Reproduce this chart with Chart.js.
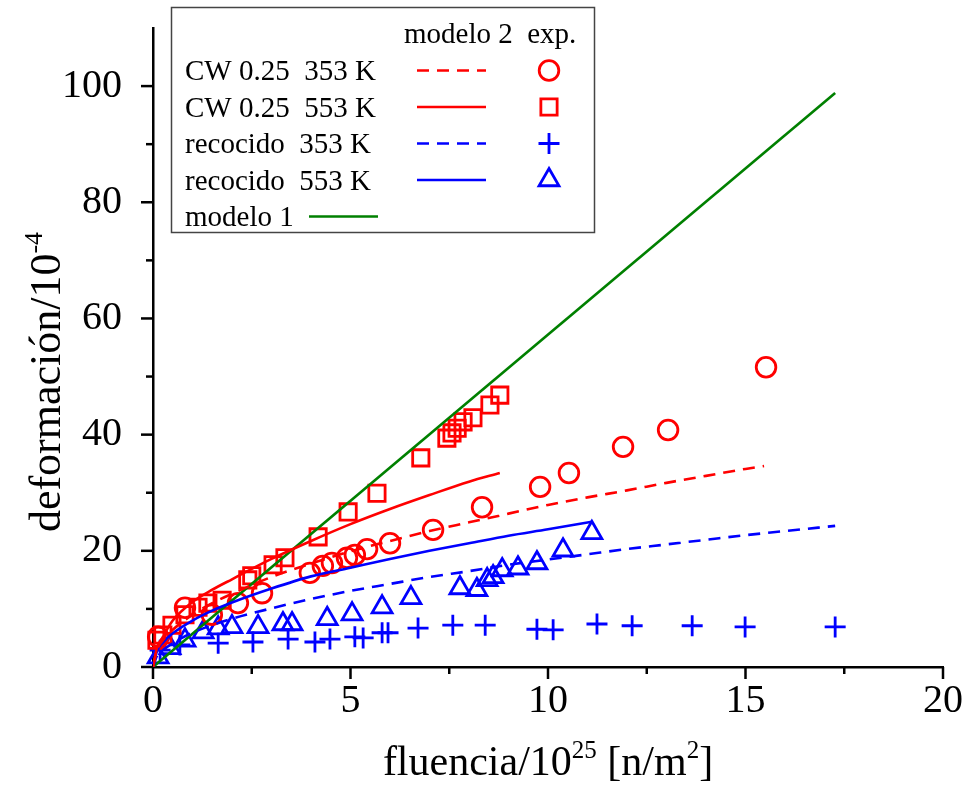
<!DOCTYPE html>
<html>
<head>
<meta charset="utf-8">
<script src="https://cdn.jsdelivr.net/npm/chart.js@4"></script>
<style>
body { margin: 0; background: #fff; }
#wrap { width: 968px; height: 787px; }
</style>
</head>
<body>
<div id="wrap"><canvas id="deformChart" width="968" height="787"></canvas></div>
<script>
// deformación (10^-4) vs fluencia (10^25 n/m^2)

// experimental points
const cw353ExpX = [0.13, 0.81, 1.49, 2.15, 2.76, 3.97, 4.30, 4.53, 4.91, 5.11, 5.42, 6.00, 7.09, 8.33, 9.80, 10.53, 11.90, 13.04, 15.52];
const cw353ExpY = [5.2, 10.2, 9.0, 11.0, 12.7, 16.2, 17.4, 17.9, 18.8, 19.3, 20.3, 21.3, 23.6, 27.5, 31.0, 33.4, 37.9, 40.8, 51.6];

const cw553ExpX = [0.10, 0.25, 0.48, 0.81, 1.14, 1.39, 1.75, 2.40, 2.50, 3.04, 3.34, 4.18, 4.94, 5.67, 6.78, 7.44, 7.57, 7.70, 7.85, 8.10, 8.53, 8.78];
const cw553ExpY = [4.6, 5.5, 7.2, 9.0, 10.3, 11.0, 11.5, 15.0, 15.7, 17.6, 18.8, 22.4, 26.7, 29.9, 36.0, 39.4, 40.3, 41.1, 42.2, 42.9, 45.1, 46.8];

const rec353ExpX = [0.18, 0.68, 1.65, 2.53, 3.42, 4.10, 4.48, 5.11, 5.32, 5.80, 5.95, 6.71, 7.59, 8.41, 9.72, 10.13, 11.24, 12.13, 13.65, 14.99, 17.27];
const rec353ExpY = [2.9, 3.8, 4.1, 4.3, 4.8, 4.3, 4.8, 5.2, 5.0, 5.9, 5.9, 6.7, 7.2, 7.2, 6.5, 6.4, 7.4, 7.1, 7.1, 6.9, 6.9];

const rec553ExpX = [0.13, 0.43, 0.81, 1.27, 1.65, 2.00, 2.66, 3.29, 3.52, 4.41, 5.04, 5.80, 6.53, 7.77, 8.20, 8.46, 8.61, 8.84, 9.24, 9.72, 10.38, 11.11];
const rec553ExpY = [1.7, 3.3, 4.6, 6.0, 6.7, 6.9, 6.9, 7.4, 7.4, 8.3, 9.1, 10.3, 11.9, 13.6, 13.3, 15.0, 15.5, 16.7, 17.0, 17.9, 20.1, 23.1];

// modelo 2 curves
const cw353ModelX = [0, 0.1, 0.25, 0.5, 1, 1.5, 2, 3, 4, 5, 6, 7, 8, 9, 10, 11, 12, 13, 14, 15, 15.47];
const cw353ModelY = [0, 2.9, 4.6, 6.4, 9.0, 11.0, 12.6, 15.5, 17.8, 19.9, 21.7, 23.4, 24.9, 26.4, 27.9, 29.2, 30.4, 31.7, 32.9, 34.1, 34.6];

const cw553ModelX = [0, 0.1, 0.25, 0.5, 1, 1.5, 2, 3, 4, 5, 6, 7, 8, 8.78];
const cw553ModelY = [0, 3.3, 5.2, 8.0, 11.2, 13.3, 15.1, 18.6, 21.7, 24.6, 27.2, 29.6, 31.9, 33.4];

const rec353ModelX = [0, 0.1, 0.25, 0.5, 1, 1.5, 2, 3, 4, 5, 6, 7, 8, 9, 10, 11, 12, 13, 14, 15, 16, 17.27];
const rec353ModelY = [0, 1.9, 2.9, 4.1, 5.9, 7.2, 8.3, 10.1, 11.7, 13.1, 14.3, 15.5, 16.5, 17.6, 18.5, 19.4, 20.3, 21.1, 21.9, 22.7, 23.4, 24.3];

const rec553ModelX = [0, 0.1, 0.25, 0.5, 1, 1.5, 2, 3, 4, 5, 6, 7, 8, 9, 10, 11.11];
const rec553ModelY = [0, 2.7, 4.2, 5.8, 8.0, 9.7, 11.1, 13.5, 15.6, 17.1, 18.6, 20.0, 21.3, 22.6, 23.7, 25.0];

// modelo 1
const model1X = [0, 17.27];
const model1Y = [0, 98.8];

// axes
const xMajorTicks = [0, 5, 10, 15, 20];
const xMinorTicks = [2.5, 7.5, 12.5, 17.5];
const yMajorTicks = [0, 20, 40, 60, 80, 100];
const yMinorTicks = [10, 30, 50, 70, 90];

const legendHeader = 'modelo 2  exp.';
const legendRows = ['CW 0.25  353 K', 'CW 0.25  553 K', 'recocido  353 K', 'recocido  553 K', 'modelo 1'];

const serif = "'Liberation Serif', 'Times New Roman', serif";
const RED = '#ff0000', BLUE = '#0000ff', GREEN = '#008000';

function pts(xs, ys) {
  return xs.map((x, i) => ({ x: x, y: ys[i] }));
}

function modelLine(xs, ys, color, dashed) {
  return {
    data: pts(xs, ys), showLine: true, borderColor: color, borderWidth: 2.6,
    borderDash: dashed ? [12, 8] : [], pointRadius: 0, cubicInterpolationMode: 'monotone'
  };
}

function expPoints(xs, ys, color, style, r) {
  return {
    data: pts(xs, ys), showLine: false, borderColor: color, backgroundColor: 'transparent',
    pointStyle: style, pointRadius: r, pointBorderWidth: 2.8, clip: false
  };
}

const datasets = [
  modelLine(cw353ModelX, cw353ModelY, RED, true),
  modelLine(cw553ModelX, cw553ModelY, RED, false),
  modelLine(rec353ModelX, rec353ModelY, BLUE, true),
  modelLine(rec553ModelX, rec553ModelY, BLUE, false),
  modelLine(model1X, model1Y, GREEN, false),
  expPoints(cw353ExpX, cw353ExpY, RED, 'circle', 9.8),
  expPoints(cw553ExpX, cw553ExpY, RED, 'rect', 11.5),
  expPoints(rec353ExpX, rec353ExpY, BLUE, 'cross', 10.5),
  expPoints(rec553ExpX, rec553ExpY, BLUE, 'triangle', 11.5)
];

// which line / marker dataset goes on each legend row
const legendLineIdx = [0, 1, 2, 3, 4];
const legendMarkIdx = [5, 6, 7, 8, null];

// text with superscripts: parts = [[text, isSup], ...]
function richWidth(ctx, parts, size) {
  let w = 0;
  parts.forEach(([t, sup]) => {
    ctx.font = (sup ? Math.round(size * 0.6) : size) + 'px ' + serif;
    w += ctx.measureText(t).width;
  });
  return w;
}
function drawRich(ctx, parts, x, y, size) {
  let cx = x;
  parts.forEach(([t, sup]) => {
    ctx.font = (sup ? Math.round(size * 0.6) : size) + 'px ' + serif;
    ctx.fillText(t, cx, sup ? y - size * 0.4 : y);
    cx += ctx.measureText(t).width;
  });
}

const axisDecor = {
  id: 'axisDecor',
  afterDraw(chart) {
    const { ctx, chartArea, scales: { x, y } } = chart;
    ctx.save();
    ctx.strokeStyle = '#000';
    ctx.lineWidth = 2.5;
    const tick = (vals, len, horiz) => vals.forEach(v => {
      ctx.beginPath();
      if (horiz) {
        const px = x.getPixelForValue(v);
        ctx.moveTo(px, chartArea.bottom);
        ctx.lineTo(px, chartArea.bottom + len);
      } else {
        const py = y.getPixelForValue(v);
        ctx.moveTo(chartArea.left, py);
        ctx.lineTo(chartArea.left - len, py);
      }
      ctx.stroke();
    });
    tick(xMajorTicks, 12, true);
    tick(xMinorTicks, 7, true);
    tick(yMajorTicks, 12, false);
    tick(yMinorTicks, 7, false);

    // axis titles
    ctx.fillStyle = '#000';
    ctx.textBaseline = 'alphabetic';
    ctx.textAlign = 'left';
    const xTitle = [['fluencia/10', false], ['25', true], [' [n/m', false], ['2', true], [']', false]];
    const xw = richWidth(ctx, xTitle, 42);
    drawRich(ctx, xTitle, (chartArea.left + chartArea.right) / 2 - xw / 2, 775, 42);

    const yTitle = [['deformación/10', false], ['-4', true]];
    ctx.translate(60, 382);
    ctx.rotate(-Math.PI / 2);
    const yw = richWidth(ctx, yTitle, 44);
    drawRich(ctx, yTitle, -yw / 2, 0, 44);
    ctx.restore();
  }
};

const boxLegend = {
  id: 'boxLegend',
  afterDraw(chart) {
    const ctx = chart.ctx;
    ctx.save();
    ctx.fillStyle = '#fff';
    ctx.fillRect(171, 7, 424, 226);
    ctx.strokeStyle = '#444';
    ctx.lineWidth = 1.5;
    ctx.strokeRect(171.5, 7.5, 423, 225);

    ctx.fillStyle = '#000';
    ctx.textAlign = 'left';
    ctx.textBaseline = 'alphabetic';
    ctx.font = '29px ' + serif;
    ctx.fillText(legendHeader, 404, 43);

    legendRows.forEach((label, i) => {
      const base = 80 + i * 36.5;
      const ly = base - 9.5;
      ctx.fillStyle = '#000';
      ctx.font = '29px ' + serif;
      ctx.fillText(label, 185, base);

      const line = chart.data.datasets[legendLineIdx[i]];
      const x0 = legendMarkIdx[i] === null ? 309 : 417;
      ctx.strokeStyle = line.borderColor;
      ctx.lineWidth = line.borderWidth;
      ctx.setLineDash(line.borderDash);
      ctx.beginPath();
      ctx.moveTo(x0, ly);
      ctx.lineTo(x0 + 69, ly);
      ctx.stroke();
      ctx.setLineDash([]);

      if (legendMarkIdx[i] !== null) {
        const m = chart.data.datasets[legendMarkIdx[i]];
        ctx.strokeStyle = m.borderColor;
        ctx.fillStyle = 'transparent';
        ctx.lineWidth = m.pointBorderWidth;
        Chart.helpers.drawPoint(ctx, {
          pointStyle: m.pointStyle, radius: m.pointRadius, borderWidth: m.pointBorderWidth, rotation: 0
        }, 549, ly);
      }
    });
    ctx.restore();
  }
};

new Chart(document.getElementById('deformChart'), {
  type: 'scatter',
  data: { datasets: datasets },
  options: {
    responsive: false,
    animation: false,
    devicePixelRatio: 1,
    layout: { padding: { left: 0, right: 25, top: 28, bottom: 0 } },
    plugins: { legend: { display: false }, tooltip: { enabled: false } },
    scales: {
      x: {
        type: 'linear', min: 0, max: 20,
        afterFit: s => { s.height = 120; s.paddingLeft = 0; s.paddingRight = 0; },
        grid: { display: false },
        border: { display: true, color: '#000', width: 2.5 },
        afterBuildTicks: s => { s.ticks = xMajorTicks.map(v => ({ value: v })); },
        ticks: { color: '#000', font: { family: serif, size: 40 }, padding: 2, maxRotation: 0 }
      },
      y: {
        type: 'linear', min: 0, max: 110,
        afterFit: s => { s.width = 153; s.paddingTop = 0; s.paddingBottom = 0; },
        grid: { display: false },
        border: { display: true, color: '#000', width: 2.5 },
        afterBuildTicks: s => { s.ticks = yMajorTicks.map(v => ({ value: v })); },
        ticks: { color: '#000', font: { family: serif, size: 40 }, padding: 23 }
      }
    }
  },
  plugins: [axisDecor, boxLegend]
});
</script>
</body>
</html>
